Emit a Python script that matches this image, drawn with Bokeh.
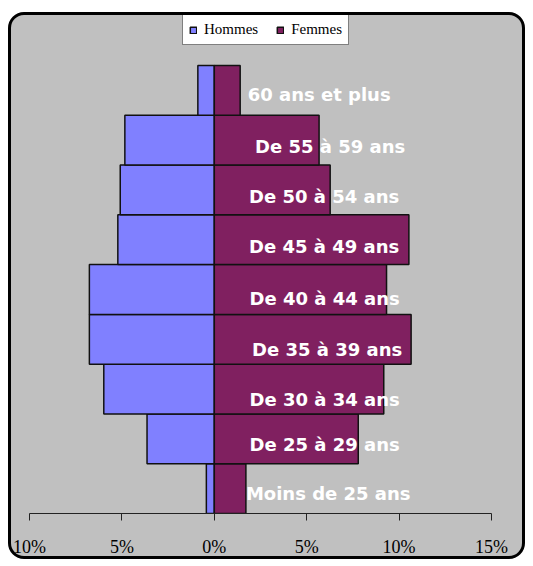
from bokeh.plotting import figure
from bokeh.models import (ColumnDataSource, Legend, LegendItem, FixedTicker,
                          Range1d, CustomJSTickFormatter)
from bokeh.core.properties import value
from bokeh.embed import file_html
from bokeh.resources import INLINE

# ---- data (bottom to top) ----
categories = ["Moins de 25 ans", "De 25 à 29 ans", "De 30 à 34 ans",
              "De 35 à 39 ans", "De 40 à 44 ans", "De 45 à 49 ans",
              "De 50 à 54 ans", "De 55 à 59 ans", "60 ans et plus"]
hommes = [0.43, 3.64, 5.98, 6.76, 6.76, 5.22, 5.09, 4.84, 0.89]
femmes = [1.71, 7.79, 9.17, 10.65, 9.32, 10.53, 6.27, 5.67, 1.40]
tick_values = [-10, -5, 0, 5, 10, 15]
tick_labels = ["10%", "5%", "0%", "5%", "10%", "15%"]
series_names = ["Hommes", "Femmes"]

# ---- styling / layout ----
BLUE = "#8080FF"
PLUM = "#802060"
GRAY = "#C0C0C0"
W, H = 517, 547
PAD_L, PAD_R, MB_B = 18, 37, 49     # pixel space left/right of the axis span
AXIS_PX = 462                        # pixel length of the -10..15 axis
BARS_PX = 448                        # pixel height occupied by the 9 bars
label_x = 6.0
label_dx = [3, -0.5, -0.5, 2, -0.5, -1, -1, 5, -6]
label_dy = [4.5, 6, 10, 10, 9, 7, 7, 6, 4]

n = len(categories)
pos = list(range(n))
frame_h = H - MB_B
px_per_cat = BARS_PX / n
y_end = -0.5 + frame_h / px_per_cat
x0, x1 = tick_values[0], tick_values[-1]
px_per_pct = AXIS_PX / (x1 - x0)
x_start = x0 - PAD_L / px_per_pct
x_end = x1 + PAD_R / px_per_pct

src = ColumnDataSource(dict(
    pos=pos,
    cat=categories,
    hom_left=[-v for v in hommes],
    zero=[0] * n,
    fem=femmes,
    lx=[label_x] * n,
    dx=label_dx,
    dy=label_dy,
))

p = figure(width=W, height=H, output_backend="svg", toolbar_location=None,
           x_range=Range1d(x_start, x_end), y_range=Range1d(-0.5, y_end),
           y_axis_location=None)
p.min_border_left = 0
p.min_border_right = 0
p.min_border_top = 0
p.min_border_bottom = MB_B
p.background_fill_color = None
p.border_fill_color = None
p.outline_line_color = None
p.xgrid.grid_line_color = None
p.ygrid.grid_line_color = None
p.styles = {"border": "3px solid black", "border-radius": "16px",
            "background": GRAY,
            "margin-top": "12px", "margin-left": "8px", "overflow": "hidden"}

r_h = p.hbar(y="pos", left="hom_left", right="zero", height=1.0, source=src,
             fill_color=BLUE, line_color="#111111", line_width=1.5)
r_f = p.hbar(y="pos", left="zero", right="fem", height=1.0, source=src,
             fill_color=PLUM, line_color="#111111", line_width=1.5)

p.text(x="lx", y="pos", text="cat", source=src, x_offset="dx", y_offset="dy",
       text_color="white", text_font=value("DejaVu Sans"),
       text_font_style="bold", text_font_size="18px",
       text_align="center", text_baseline="middle")

ax = p.xaxis[0]
ax.bounds = (x0, x1)
ax.ticker = FixedTicker(ticks=tick_values)
ax.formatter = CustomJSTickFormatter(args=dict(vals=tick_values, labs=tick_labels),
                                     code="return labs[vals.indexOf(tick)];")
ax.axis_line_color = "#222222"
ax.major_tick_line_color = "#222222"
ax.major_tick_in = 0
ax.major_tick_out = 7
ax.minor_tick_line_color = None
ax.major_label_text_font = "Liberation Serif"
ax.major_label_text_font_size = "18px"
ax.major_label_text_color = "black"
ax.major_label_standoff = 16

legend = Legend(items=[LegendItem(label=series_names[0], renderers=[r_h]),
                       LegendItem(label=series_names[1], renderers=[r_f])],
                location=(PAD_L + 153, frame_h - 30), orientation="horizontal")
legend.background_fill_color = "white"
legend.background_fill_alpha = 1.0
legend.border_line_color = "black"
legend.border_line_width = 1
legend.label_text_font = "Liberation Serif"
legend.label_text_font_size = "15px"
legend.label_text_color = "black"
legend.glyph_width = 8
legend.glyph_height = 8
legend.label_standoff = 7
legend.spacing = 18
legend.padding = 6
legend.margin = 0
legend.label_height = 15
p.add_layout(legend)

open("out.html", "w").write(file_html(p, INLINE))
